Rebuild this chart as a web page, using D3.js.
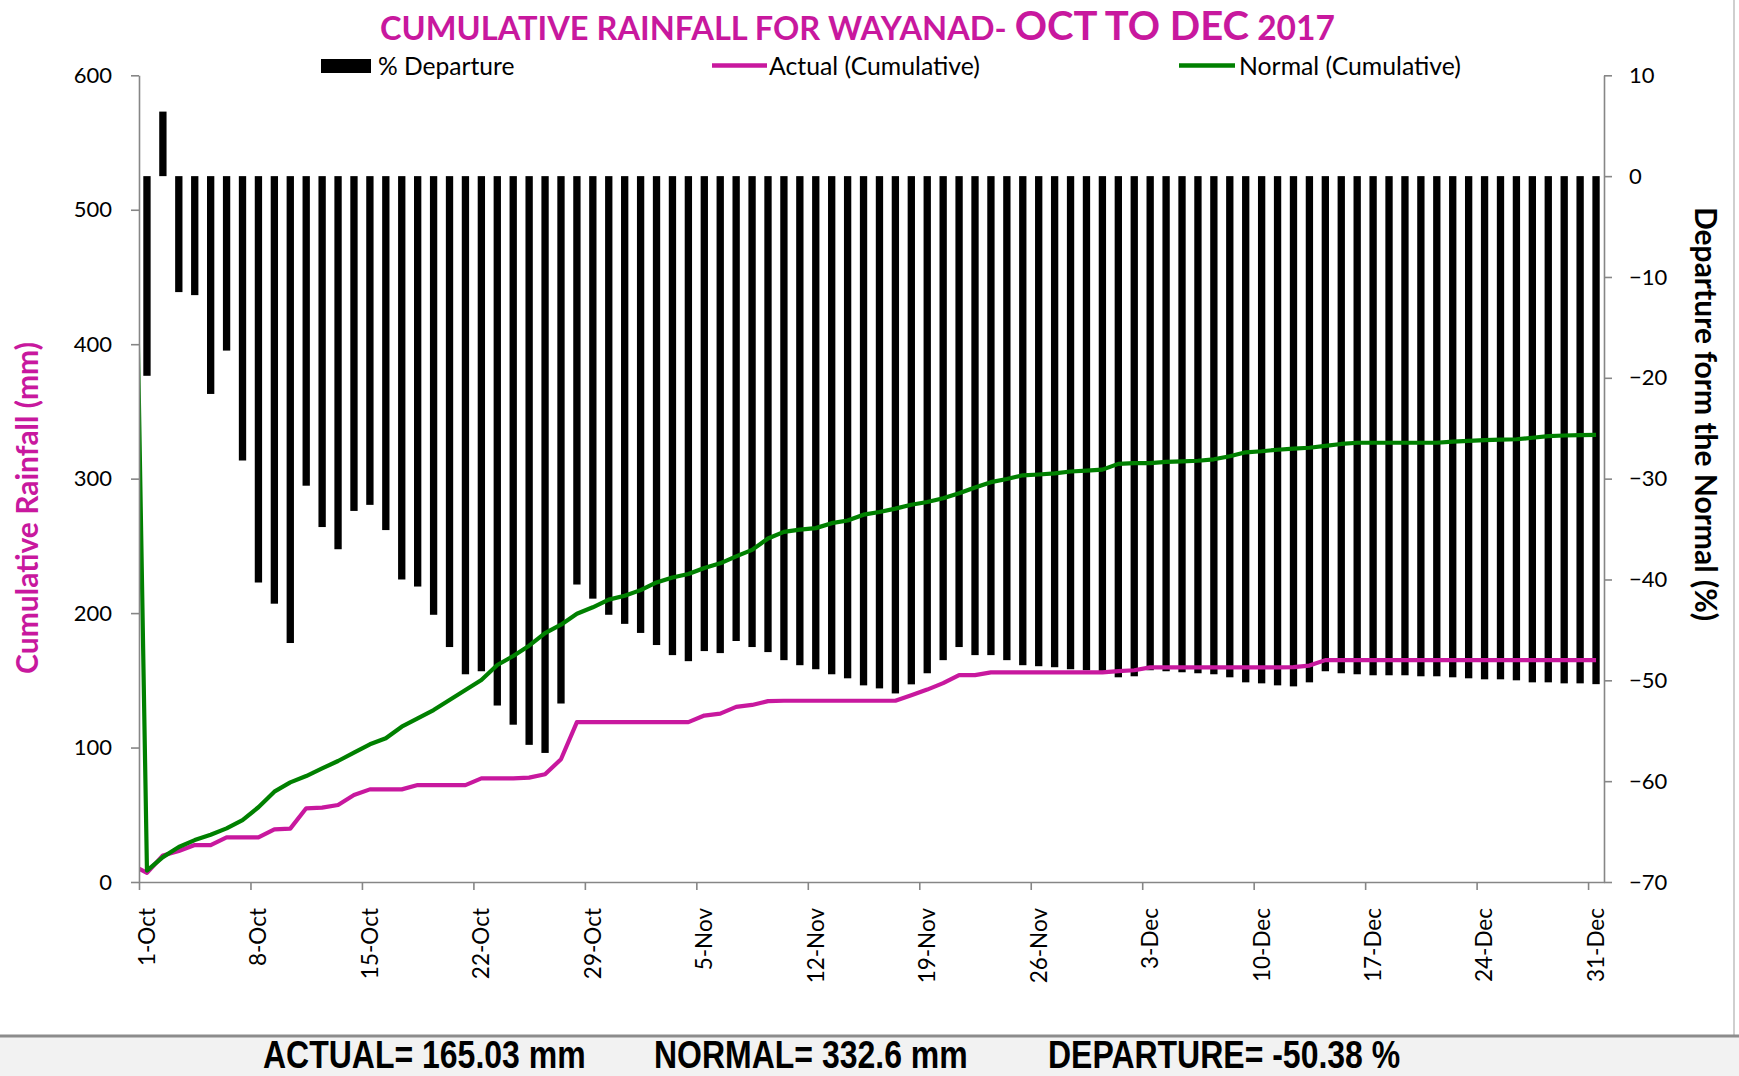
<!DOCTYPE html>
<html><head><meta charset="utf-8">
<script src="https://cdn.jsdelivr.net/npm/d3@7"></script>
<style>
body{margin:0;background:#fff;}
svg{display:block;}
text{font-family:Lato,"Open Sans",sans-serif;}
</style>
</head><body>
<svg id="chart" width="1739" height="1076"></svg>
<script>
// ---------- DATA ----------
// % departure from normal, 1-Oct .. 31-Dec 2017
const departure = [
 -19.8, 6.4, -11.5, -11.8, -21.6, -17.3, -28.2, -40.3, -42.4, -46.3,
 -30.7, -34.8, -37.0, -33.2, -32.6, -35.1, -40.0, -40.7, -43.5, -46.7,
 -49.4, -49.1, -52.5, -54.4, -56.4, -57.2, -52.3, -40.5, -41.9, -43.5,
 -44.4, -45.3, -46.5, -47.5, -48.1, -47.1, -47.3, -46.1, -46.7, -47.2,
 -48.0, -48.5, -48.9, -49.4, -49.8, -50.5, -50.8, -51.3, -50.4, -49.3,
 -48.0, -46.7, -47.5, -47.5, -48.0, -48.5, -48.6, -48.7, -48.9, -49.0,
 -49.2, -49.7, -49.6, -49.0, -49.1, -49.2, -49.3, -49.4, -49.7, -50.2,
 -50.3, -50.5, -50.6, -50.2, -49.1, -49.3, -49.4, -49.5, -49.5, -49.5,
 -49.6, -49.6, -49.7, -49.8, -49.9, -49.9, -50.0, -50.2, -50.2, -50.3,
 -50.3, -50.38
];
// Actual cumulative rainfall (mm)
const actualCum = [
 6.8, 19.7, 23.0, 27.5, 27.5, 33.2, 33.2, 33.2, 39.2, 39.7,
 54.8, 55.3, 57.3, 64.7, 68.9, 68.9, 68.9, 72.1, 72.1, 72.1,
 72.1, 77.1, 77.1, 77.1, 77.6, 80.1, 91.3, 118.9, 118.9, 118.9,
 118.9, 118.9, 118.9, 118.9, 118.9, 123.8, 125.2, 130.3, 131.7, 134.5,
 134.8, 134.8, 134.8, 134.8, 134.8, 134.8, 134.8, 134.8, 138.9, 143.1,
 147.9, 153.9, 153.9, 155.9, 155.9, 155.9, 155.9, 155.9, 155.9, 155.9,
 155.9, 156.8, 157.5, 159.6, 159.6, 159.6, 159.6, 159.6, 159.6, 159.6,
 159.6, 159.6, 159.8, 161.0, 165.03, 165.03, 165.03, 165.03, 165.03, 165.03,
 165.03, 165.03, 165.03, 165.03, 165.03, 165.03, 165.03, 165.03, 165.03, 165.03,
 165.03, 165.03
];
// Normal cumulative rainfall (mm)
const normalCum = [
 8.5, 18.5, 26.0, 31.2, 35.1, 39.9, 46.1, 55.6, 67.2, 74.1,
 78.8, 84.5, 90.0, 96.2, 102.4, 106.9, 115.5, 121.7, 127.9, 135.4,
 142.8, 150.2, 161.4, 168.1, 175.8, 185.1, 191.4, 199.5, 204.3, 210.0,
 212.9, 217.1, 222.8, 226.5, 229.1, 233.6, 237.0, 242.2, 247.0, 255.5,
 260.4, 262.1, 263.2, 266.9, 268.9, 273.2, 275.2, 277.7, 280.6, 282.6,
 285.4, 289.1, 293.4, 297.4, 299.7, 302.5, 303.1, 303.9, 305.3, 305.9,
 306.7, 311.0, 311.6, 311.6, 312.5, 312.8, 313.3, 314.4, 316.7, 319.6,
 320.4, 321.5, 322.4, 323.0, 324.4, 325.8, 326.7, 326.7, 326.7, 326.7,
 326.7, 326.7, 327.5, 328.1, 328.7, 329.0, 329.3, 330.4, 331.6, 332.1,
 332.4, 332.6
];
// the series also hold a 30-Sep point that lies left of the plot (clipped)
const prevActual = 13;
const prevNormal = 697;

const leftTicks  = [0, 100, 200, 300, 400, 500, 600];
const rightTicks = [10, 0, -10, -20, -30, -40, -50, -60, -70];
const xLabelEvery = 7;
const titleParts = ["CUMULATIVE RAINFALL FOR WAYANAD- ", "OCT TO DEC", " 2017"];
const legendLabels = ["% Departure", "Actual (Cumulative)", "Normal (Cumulative)"];
const footerTexts = ["ACTUAL= 165.03 mm", "NORMAL= 332.6 mm", "DEPARTURE= -50.38 %"];

// ---------- LAYOUT ----------
const PINK = "#C8189E", GREEN = "#008000", AXIS = "#868686";
const L = 139, R = 1604, T = 75.3, B = 882;
const svg = d3.select("#chart");
const fmt = d3.timeFormat("%-d-%b");
const dates = d3.timeDay.range(new Date(2017, 9, 1), new Date(2018, 0, 1)).map(fmt);

const xBand = d3.scaleBand().domain(dates).range([L, R]).paddingInner(0.54).paddingOuter(0.27);
const xIdx = d3.scaleLinear().domain([-0.5, dates.length - 0.5]).range([L, R]);
const yL = d3.scaleLinear().domain([0, 600]).range([B, T]);
const yR = d3.scaleLinear().domain([-70, 10]).range([B, T]);

svg.append("defs").append("clipPath").attr("id", "plotclip")
  .append("rect").attr("x", L).attr("y", T - 5).attr("width", R - L).attr("height", B - T + 5);

// bars
svg.append("g").selectAll("rect").data(departure).join("rect")
  .attr("x", (d, i) => xBand(dates[i]))
  .attr("width", xBand.bandwidth())
  .attr("y", d => yR(Math.max(0, d)))
  .attr("height", d => Math.abs(yR(d) - yR(0)))
  .attr("fill", "#000");

// lines
const lineGen = d3.line().x(d => xIdx(d.i)).y(d => yL(d.v));
const actualPts = [{i: -1, v: prevActual}].concat(actualCum.map((v, i) => ({i, v})));
const normalPts = [{i: -1, v: prevNormal}].concat(normalCum.map((v, i) => ({i, v})));
const lg = svg.append("g").attr("clip-path", "url(#plotclip)");
lg.append("path").datum(actualPts).attr("d", lineGen)
  .attr("fill", "none").attr("stroke", PINK).attr("stroke-width", 4.2).attr("stroke-linejoin", "round");
lg.append("path").datum(normalPts).attr("d", lineGen)
  .attr("fill", "none").attr("stroke", GREEN).attr("stroke-width", 4.2).attr("stroke-linejoin", "round");

// axes
function styleAxis(g) {
  g.selectAll("path,line").attr("stroke", AXIS).attr("stroke-width", 1.6);
  g.selectAll("text").attr("fill", "#000").style("font-size", "22px").style("font-family", "Lato");
}
svg.append("g").attr("transform", `translate(${L},0)`)
  .call(d3.axisLeft(yL).tickValues(leftTicks).tickSize(8).tickSizeOuter(0).tickPadding(19))
  .call(styleAxis);
svg.append("g").attr("transform", `translate(${R},0)`)
  .call(d3.axisRight(yR).tickValues(rightTicks).tickSize(8).tickSizeOuter(0).tickPadding(17))
  .call(styleAxis);
const tickIdx = d3.range(0, dates.length, xLabelEvery);
svg.append("g").attr("transform", `translate(0,${B})`)
  .call(d3.axisBottom(xIdx).tickValues(tickIdx.map(i => i - 0.5)).tickSize(8).tickSizeOuter(0).tickFormat(""))
  .call(styleAxis);
svg.append("g").selectAll("text").data(tickIdx).join("text")
  .attr("transform", i => `translate(${xIdx(i)},908) rotate(-90)`)
  .attr("text-anchor", "end").attr("dy", "0.35em")
  .style("font-size", "22.5px").attr("fill", "#000")
  .text(i => dates[i]);

// axis titles
svg.append("text").attr("transform", "translate(27,508) rotate(-90)")
  .attr("text-anchor", "middle").attr("dy", "0.35em")
  .style("font-size", "30px").style("font-weight", "bold").attr("fill", PINK)
  .text("Cumulative Rainfall (mm)");
svg.append("text").attr("transform", "translate(1705,414) rotate(90)")
  .attr("text-anchor", "middle").attr("dy", "0.35em")
  .style("font-size", "30px").style("font-weight", "bold").attr("fill", "#000")
  .text("Departure form the Normal (%)");

// title
const tt = svg.append("text").attr("x", 380).attr("y", 40).attr("fill", PINK).style("font-weight", "bold");
tt.append("tspan").style("font-size", "32.6px").text(titleParts[0]);
tt.append("tspan").style("font-size", "40px").text(titleParts[1]);
tt.append("tspan").style("font-size", "33.5px").text(titleParts[2]);

// legend
const leg = svg.append("g");
leg.append("rect").attr("x", 321).attr("y", 59).attr("width", 50).attr("height", 14).attr("fill", "#000");
leg.append("text").attr("x", 378).attr("y", 66).attr("dy", "0.35em").style("font-size", "24.6px").text(legendLabels[0]);
leg.append("line").attr("x1", 712).attr("x2", 767).attr("y1", 65.5).attr("y2", 65.5).attr("stroke", PINK).attr("stroke-width", 4.5);
leg.append("text").attr("x", 769).attr("y", 66).attr("dy", "0.35em").style("font-size", "24.8px").text(legendLabels[1]);
leg.append("line").attr("x1", 1179).attr("x2", 1235).attr("y1", 65.5).attr("y2", 65.5).attr("stroke", GREEN).attr("stroke-width", 4.5);
leg.append("text").attr("x", 1239).attr("y", 66).attr("dy", "0.35em").style("font-size", "24.8px").text(legendLabels[2]);

// frame + footer
svg.append("line").attr("x1", 1734).attr("x2", 1734).attr("y1", 0).attr("y2", 1036).attr("stroke", "#BFBFBF").attr("stroke-width", 1.5);
svg.append("rect").attr("x", 0).attr("y", 1036).attr("width", 1739).attr("height", 40).attr("fill", "#F2F2F2");
svg.append("line").attr("x1", 0).attr("x2", 1739).attr("y1", 1036).attr("y2", 1036).attr("stroke", "#8C8C8C").attr("stroke-width", 3);
const footerX = [263, 654, 1048];
svg.append("g").selectAll("text").data(footerTexts).join("text")
  .attr("transform", (d, i) => `translate(${footerX[i]},1067.5) scale(1,1.2)`)
  .style("font-family", "'Liberation Sans', Arial, sans-serif").style("font-weight", "bold").style("font-size", "32px")
  .attr("fill", "#000").text(d => d);
</script>
</body></html>
